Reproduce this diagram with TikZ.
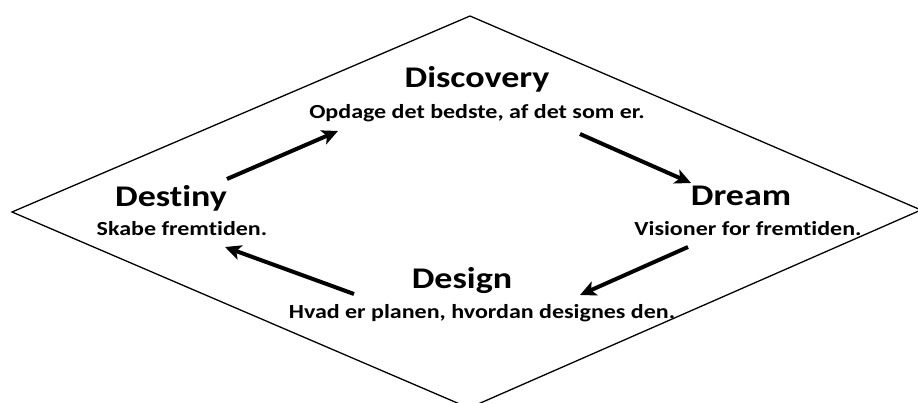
\documentclass[tikz,border=0pt]{standalone}
\usepackage{fontspec}
\setmainfont[FakeStretch=1.2,Ligatures={CommonOff}]{Carlito}
\usetikzlibrary{arrows.meta}
\begin{document}
\begin{tikzpicture}[x=1pt,y=-1pt,
  title/.style={font=\bfseries\fontsize{30}{30}\selectfont,anchor=base,inner sep=0pt},
  sub/.style={font=\bfseries\fontsize{20}{20}\selectfont,anchor=base,inner sep=0pt},
  flow/.style={line width=4pt,-{Stealth[length=16pt,width=15pt,inset=4pt]}}]
\useasboundingbox (0,0) rectangle (918,403);
\fill[white] (0,0) rectangle (918,403);
\clip (0,0) rectangle (918,403);
\draw[line width=1.3pt,line join=miter] (470,16) -- (921,210) -- (469,408) -- (12,212) -- cycle;
\node[title] (disc) at (477,88) {Discovery};
\node[sub] (discs) at (477,119) {Opdage det bedste, af det som er.};
\node[title] (dest) at (171,207) {Destiny};
\node[sub] (dests) at (182,236) {Skabe fremtiden.};
\node[title] (dream) at (741,206) {Dream};
\node[sub] (dreams) at (748,236) {Visioner for fremtiden.};
\node[title] (des) at (462,288) {Design};
\node[sub] (dess) at (482,318) {Hvad er planen, hvordan designes den.};
\coordinate (a1) at (227,179); \coordinate (b1) at (338,131);
\coordinate (a2) at (580,134); \coordinate (b2) at (691,183);
\coordinate (a3) at (688,247); \coordinate (b3) at (580,295);
\coordinate (a4) at (354,294); \coordinate (b4) at (225,247);
\draw[flow] (a1) -- (b1);
\draw[flow] (a2) -- (b2);
\draw[flow] (a3) -- (b3);
\draw[flow] (a4) -- (b4);
\end{tikzpicture}
\end{document}
